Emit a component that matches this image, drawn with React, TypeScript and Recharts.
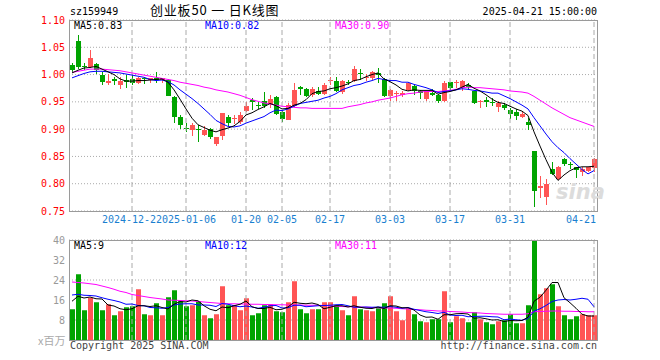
import React from "react";
import {
  ComposedChart,
  Bar,
  Line,
  XAxis,
  YAxis,
  CartesianGrid,
  ReferenceLine,
  Cell,
} from "recharts";

// trading days shown on the chart
const dates = [
  "2024-12-09", "2024-12-10", "2024-12-11", "2024-12-12", "2024-12-13", "2024-12-16", "2024-12-17", "2024-12-18", "2024-12-19", "2024-12-20",
  "2024-12-23", "2024-12-24", "2024-12-25", "2024-12-26", "2024-12-27", "2024-12-30", "2024-12-31", "2025-01-02", "2025-01-03", "2025-01-06",
  "2025-01-07", "2025-01-08", "2025-01-09", "2025-01-10", "2025-01-13", "2025-01-14", "2025-01-15", "2025-01-16", "2025-01-17", "2025-01-20",
  "2025-01-21", "2025-01-22", "2025-01-23", "2025-01-24", "2025-01-27", "2025-02-05", "2025-02-06", "2025-02-07", "2025-02-10", "2025-02-11",
  "2025-02-12", "2025-02-13", "2025-02-14", "2025-02-17", "2025-02-18", "2025-02-19", "2025-02-20", "2025-02-21", "2025-02-24", "2025-02-25",
  "2025-02-26", "2025-02-27", "2025-02-28", "2025-03-03", "2025-03-04", "2025-03-05", "2025-03-06", "2025-03-07", "2025-03-10", "2025-03-11",
  "2025-03-12", "2025-03-13", "2025-03-14", "2025-03-17", "2025-03-18", "2025-03-19", "2025-03-20", "2025-03-21", "2025-03-24", "2025-03-25",
  "2025-03-26", "2025-03-27", "2025-03-28", "2025-03-31", "2025-04-01", "2025-04-02", "2025-04-03", "2025-04-07", "2025-04-08", "2025-04-09",
  "2025-04-10", "2025-04-11", "2025-04-14", "2025-04-15", "2025-04-16", "2025-04-17", "2025-04-18", "2025-04-21",
];

const opens = [
  1.017, 1.062, 1.015, 1.014, 1.02, 1.0, 0.984, 0.992, 0.98, 0.99,
  0.992, 0.984, 0.993, 0.99, 0.993, 0.99, 0.99, 0.959, 0.922, 0.903,
  0.898, 0.901, 0.89, 0.8995, 0.8735, 0.888, 0.923, 0.918, 0.913, 0.934,
  0.953, 0.945, 0.952, 0.946, 0.959, 0.932, 0.917, 0.943, 0.977, 0.974,
  0.963, 0.97, 0.964, 0.988, 0.989, 0.968, 0.987, 0.989, 1.003, 0.994,
  0.994, 1.003, 0.992, 0.96, 0.965, 0.963, 0.972, 0.979, 0.969, 0.955,
  0.967, 0.963, 0.951, 0.986, 0.984, 0.978, 0.981, 0.969, 0.95, 0.953,
  0.949, 0.941, 0.945, 0.935, 0.932, 0.922, 0.914, 0.86, 0.793, 0.776,
  0.827, 0.808, 0.845, 0.837, 0.831, 0.821, 0.823, 0.828,
];

const highs = [
  1.021, 1.073, 1.022, 1.045, 1.022, 1.004, 1.001, 0.996, 0.996, 0.999,
  0.999, 0.996, 0.996, 0.994, 1.004, 0.994, 0.992, 0.961, 0.926, 0.911,
  0.911, 0.908, 0.905, 0.903, 0.886, 0.93, 0.926, 0.926, 0.931, 0.949,
  0.957, 0.949, 0.968, 0.962, 0.961, 0.934, 0.948, 0.984, 0.979, 0.976,
  0.978, 0.978, 0.984, 0.996, 0.995, 0.99, 0.99, 1.015, 1.011, 1.001,
  1.006, 1.012, 0.993, 0.974, 0.969, 0.97, 0.987, 0.981, 0.971, 0.97,
  0.974, 0.964, 0.989, 0.987, 0.99, 0.99, 0.984, 0.97, 0.954, 0.958,
  0.957, 0.952, 0.948, 0.938, 0.937, 0.932, 0.92, 0.86, 0.814, 0.809,
  0.84, 0.833, 0.848, 0.839, 0.831, 0.83, 0.831, 0.847,
];

const lows = [
  1.005, 1.011, 1.009, 1.012, 1.001, 0.98, 0.981, 0.981, 0.973, 0.976,
  0.981, 0.982, 0.982, 0.984, 0.984, 0.984, 0.96, 0.912, 0.901, 0.894,
  0.887, 0.877, 0.888, 0.882, 0.869, 0.88, 0.906, 0.909, 0.909, 0.932,
  0.935, 0.937, 0.939, 0.938, 0.926, 0.914, 0.916, 0.941, 0.963, 0.958,
  0.958, 0.962, 0.962, 0.98, 0.968, 0.964, 0.981, 0.987, 0.99, 0.989,
  0.99, 0.984, 0.958, 0.952, 0.952, 0.958, 0.969, 0.963, 0.956, 0.952,
  0.96, 0.947, 0.949, 0.972, 0.976, 0.969, 0.972, 0.946, 0.938, 0.941,
  0.943, 0.932, 0.935, 0.918, 0.917, 0.92, 0.899, 0.758, 0.774, 0.761,
  0.816, 0.807, 0.833, 0.827, 0.811, 0.815, 0.821, 0.822,
];

const closes = [
  1.009, 1.014, 1.013, 1.03, 1.008, 0.986, 0.989, 0.989, 0.989, 0.987,
  0.985, 0.994, 0.991, 0.993, 0.99, 0.993, 0.961, 0.923, 0.907, 0.901,
  0.908, 0.899, 0.899, 0.885, 0.885, 0.929, 0.911, 0.92, 0.926, 0.943,
  0.949, 0.943, 0.942, 0.956, 0.927, 0.919, 0.944, 0.972, 0.974, 0.96,
  0.974, 0.964, 0.98, 0.99, 0.97, 0.989, 0.985, 1.011, 1.001, 0.996,
  1.005, 1.0, 0.96, 0.972, 0.966, 0.966, 0.984, 0.97, 0.967, 0.969,
  0.963, 0.952, 0.984, 0.976, 0.986, 0.988, 0.978, 0.948, 0.952, 0.95,
  0.947, 0.947, 0.938, 0.927, 0.925, 0.928, 0.907, 0.787, 0.796, 0.8,
  0.817, 0.831, 0.836, 0.835, 0.825, 0.827, 0.83, 0.845,
];

const ma5 = [
  1.003, 1.008, 1.012, 1.013, 1.015, 1.01, 1.005, 1.0, 0.992, 0.988,
  0.988, 0.989, 0.989, 0.99, 0.991, 0.992, 0.986, 0.972, 0.955, 0.937,
  0.92, 0.908, 0.903, 0.898, 0.895, 0.899, 0.902, 0.906, 0.914, 0.926,
  0.93, 0.936, 0.941, 0.947, 0.943, 0.937, 0.938, 0.944, 0.947, 0.954,
  0.965, 0.969, 0.97, 0.974, 0.976, 0.979, 0.983, 0.989, 0.991, 0.996,
  1.0, 1.003, 0.992, 0.987, 0.981, 0.973, 0.97, 0.972, 0.971, 0.971,
  0.971, 0.964, 0.967, 0.969, 0.972, 0.977, 0.982, 0.975, 0.97, 0.963,
  0.955, 0.949, 0.947, 0.942, 0.937, 0.933, 0.925, 0.895, 0.869, 0.844,
  0.821, 0.806, 0.816, 0.824, 0.829, 0.831, 0.831, 0.832,
];

const ma10 = [
  0.994, 0.998, 1.002, 1.005, 1.006, 1.006, 1.005, 1.004, 1.003, 1.001,
  0.999, 0.997, 0.995, 0.991, 0.989, 0.99, 0.987, 0.981, 0.972, 0.964,
  0.956, 0.947, 0.937, 0.927, 0.916, 0.91, 0.905, 0.904, 0.906, 0.911,
  0.915, 0.919, 0.923, 0.93, 0.935, 0.934, 0.937, 0.942, 0.947, 0.949,
  0.951, 0.953, 0.957, 0.96, 0.965, 0.972, 0.976, 0.98, 0.982, 0.986,
  0.989, 0.993, 0.991, 0.989, 0.989, 0.986, 0.986, 0.982, 0.979, 0.976,
  0.972, 0.967, 0.969, 0.97, 0.972, 0.974, 0.973, 0.971, 0.97, 0.968,
  0.966, 0.966, 0.961, 0.956, 0.95, 0.944, 0.937, 0.921, 0.906, 0.891,
  0.877, 0.866, 0.857, 0.846, 0.836, 0.826, 0.818, 0.824,
];

const ma30 = [
  1.004, 1.006, 1.008, 1.01, 1.01, 1.01, 1.009, 1.008, 1.007, 1.005,
  1.003, 1.001, 0.999, 0.997, 0.995, 0.993, 0.991, 0.989, 0.986, 0.984,
  0.982, 0.98, 0.977, 0.975, 0.972, 0.97, 0.968, 0.965, 0.962, 0.958,
  0.954, 0.951, 0.948, 0.946, 0.944, 0.942, 0.941, 0.94, 0.939, 0.939,
  0.938, 0.938, 0.938, 0.938, 0.938, 0.938, 0.941, 0.943, 0.945, 0.948,
  0.95, 0.953, 0.955, 0.957, 0.96, 0.963, 0.965, 0.966, 0.968, 0.969,
  0.969, 0.969, 0.97, 0.971, 0.973, 0.976, 0.977, 0.976, 0.976, 0.975,
  0.974, 0.973, 0.972, 0.97, 0.969, 0.968, 0.966, 0.96, 0.953, 0.946,
  0.939, 0.933, 0.927, 0.921, 0.917, 0.913, 0.909, 0.905,
];

// volume, millions
const volumes = [
  12.3, 26.3, 11.9, 16.9, 15.1, 11.9, 14.3, 9.9, 11.5, 13.1,
  13.5, 20.3, 10.3, 9.9, 14.7, 9.9, 17.1, 19.9, 15.5, 13.5,
  13.9, 15.5, 9.9, 8.7, 10.3, 21.5, 13.9, 13.9, 11.9, 16.7,
  9.9, 10.7, 13.9, 14.3, 11.5, 11.1, 15.1, 23.5, 12.3, 10.7,
  12.3, 12.3, 15.1, 15.1, 13.9, 11.9, 9.9, 17.5, 12.3, 11.9,
  11.5, 12.7, 14.7, 17.5, 11.5, 7.9, 12.7, 10.3, 7.5, 7.1,
  8.3, 8.3, 19.5, 7.1, 9.5, 8.7, 7.1, 11.1, 8.3, 7.1,
  6.3, 7.5, 7.9, 10.3, 6.7, 6.7, 13.9, 40, 18.3, 20.7,
  22.3, 13.5, 9.9, 8.3, 9.5, 10.3, 9.9, 9.9,
];

const vma5 = [
  15.5, 17.5, 16.8, 17.2, 16.5, 16.4, 14.0, 13.6, 12.5, 12.1,
  12.5, 13.7, 13.7, 13.4, 13.7, 13.0, 12.4, 14.3, 15.4, 15.2,
  16.0, 15.7, 13.7, 12.3, 11.7, 13.2, 12.9, 13.7, 14.3, 15.6,
  13.3, 12.6, 12.6, 13.1, 12.1, 12.3, 13.2, 15.1, 14.7, 14.5,
  14.8, 14.2, 12.5, 13.1, 13.7, 13.7, 13.2, 13.7, 13.1, 12.7,
  12.6, 13.2, 12.6, 13.7, 13.6, 12.9, 12.9, 12.0, 10.0, 9.1,
  9.2, 8.3, 10.1, 10.1, 10.5, 10.6, 10.4, 8.7, 8.9, 8.5,
  8.0, 8.1, 7.4, 7.8, 7.7, 7.8, 9.1, 15.5, 17.1, 19.9,
  23.0, 23.0, 16.9, 14.9, 12.7, 10.3, 9.6, 9.6,
];

const vma10 = [
  18.0, 18.3, 17.9, 17.8, 17.6, 16.9, 16.3, 15.8, 15.2, 14.3,
  14.4, 13.8, 13.7, 13.0, 12.9, 12.7, 13.0, 14.0, 14.4, 14.5,
  14.5, 14.0, 14.0, 13.9, 13.4, 14.6, 14.3, 13.7, 13.3, 13.6,
  13.2, 12.7, 13.1, 13.7, 13.8, 12.8, 12.9, 13.9, 13.9, 13.3,
  13.5, 13.7, 13.8, 13.9, 14.1, 14.2, 13.7, 13.1, 13.1, 13.2,
  13.1, 13.2, 13.1, 13.4, 13.1, 12.7, 13.0, 12.3, 11.8, 11.3,
  11.0, 10.6, 11.1, 10.0, 9.8, 9.9, 9.3, 9.4, 9.5, 9.5,
  9.3, 9.2, 8.1, 8.4, 8.1, 7.9, 8.6, 11.5, 12.5, 13.8,
  15.4, 16.0, 16.2, 16.0, 16.3, 16.7, 16.3, 13.3,
];

const vma30 = [
  23.2, 23.0, 22.8, 22.5, 22.2, 21.6, 21.0, 20.3, 19.5, 19.0,
  18.2, 17.8, 17.4, 17.0, 16.7, 16.4, 16.0, 15.9, 15.8, 15.7,
  15.6, 15.4, 15.2, 15.0, 14.8, 14.6, 14.5, 14.5, 14.4, 14.4,
  14.3, 14.3, 14.2, 14.2, 14.1, 14.1, 14.0, 14.0, 14.0, 13.9,
  13.9, 13.9, 13.8, 13.6, 13.5, 13.4, 13.3, 13.3, 13.2, 13.1,
  13.0, 12.9, 12.8, 12.8, 12.7, 12.5, 12.4, 12.2, 12.1, 11.9,
  11.8, 11.6, 11.6, 11.4, 11.3, 11.2, 11.0, 10.9, 10.8, 10.6,
  10.5, 10.4, 10.3, 10.3, 10.3, 10.3, 10.5, 11.3, 11.4, 11.5,
  11.6, 11.6, 11.5, 11.5, 11.4, 11.4, 11.3, 11.3,
];

const tickDates = ["2024-12-23", "2025-01-06", "2025-01-20", "2025-02-05", "2025-02-17", "2025-03-03", "2025-03-17", "2025-03-31", "2025-04-21"];
const tickLabels = ["2024-12-23", "2025-01-06", "01-20", "02-05", "02-17", "03-03", "03-17", "03-31", "04-21"];
const priceTicks = [0.75, 0.8, 0.85, 0.9, 0.95, 1.0, 1.05, 1.1];
const volTicks = [8, 16, 24, 32, 40];

const RED = "#ff5555";
const GREEN = "#00a400";
const GRID = "#aaaaaa";
const MONO = "'DejaVu Sans Mono', monospace";
const CJK = "'Noto Sans CJK SC', sans-serif";

const rows = dates.map((date, i) => ({
  date,
  open: opens[i],
  high: highs[i],
  low: lows[i],
  close: closes[i],
  range: [lows[i], highs[i]],
  ma5: ma5[i],
  ma10: ma10[i],
  ma30: ma30[i],
  vol: volumes[i],
  vma5: vma5[i],
  vma10: vma10[i],
  vma30: vma30[i],
}));

const Candle = (props: any) => {
  const { x, y, width, height, payload } = props;
  if (!payload) return null;
  const { open, close, high, low } = payload;
  const color = close >= open ? RED : GREEN;
  const top = Math.min(y, y + height);
  const span = Math.abs(height);
  const k = span / (high - low);
  const yo = top + (high - open) * k;
  const yc = top + (high - close) * k;
  const bodyTop = Math.min(yo, yc);
  const bodyH = Math.max(1, Math.abs(yc - yo));
  const cx = Math.floor(x + width / 2);
  return (
    <g shapeRendering="crispEdges">
      <rect x={cx} y={top} width={1} height={span} fill={color} />
      <rect x={Math.round(x)} y={bodyTop} width={width} height={bodyH} fill={color} />
    </g>
  );
};

// later labels sit on a white patch so they cover the end of an earlier one
const DateTick = ({ x, y, payload }: any) => {
  const k = tickDates.indexOf(payload.value);
  if (k < 0) return null;
  const label = tickLabels[k];
  const last = k === tickDates.length - 1;
  const w = label.length * 6;
  const ax = last ? x + 2 : x;
  const left = last ? ax - w : ax - w / 2;
  return (
    <g>
      <rect x={left} y={y} width={w} height={12} fill="#fff" />
      <text x={ax} y={y} dy={8} textAnchor={last ? "end" : "middle"} fill="#1a7fd0" fontSize={10} fontFamily={MONO}>
        {label}
      </text>
    </g>
  );
};

const T = ({ left, right, top, color = "#000", size = 10, font = MONO, spacing = 0, children }: any) => (
  <div
    style={{
      position: "absolute",
      left,
      right,
      top,
      color,
      fontSize: size,
      fontFamily: font,
      letterSpacing: spacing,
      lineHeight: "12px",
      whiteSpace: "pre",
    }}
  >
    {children}
  </div>
);

const frame = (top: number, height: number): React.CSSProperties => ({
  position: "absolute",
  left: 69,
  top,
  width: 529,
  height,
  border: "1px solid #9a9a9a",
  boxSizing: "border-box",
  pointerEvents: "none",
});

export default function App() {
  return (
    <div style={{ position: "absolute", left: 0, top: 0, width: 660, height: 360, background: "#fff", overflow: "hidden" }}>
      <T left={70} top={6}>sz159949</T>
      <T left={150} top={4} size={13} font={CJK} spacing={0.8}>创业板50 一 日K线图</T>
      <T right={63} top={6}>2025-04-21 15:00:00</T>

      <div style={{ position: "absolute", left: 0, top: 0 }}>
        <ComposedChart width={660} height={235} data={rows} margin={{ top: 20, right: 63, bottom: 0, left: 9 }}>
          <CartesianGrid vertical={false} stroke={GRID} strokeDasharray="1 2" />
          <XAxis
            dataKey="date"
            ticks={tickDates}
            interval={0}
            tick={<DateTick />}
            axisLine={false}
            tickLine={false}
            tickSize={2}
            tickMargin={2}
            height={24}
          />
          <YAxis
            domain={[0.75, 1.1]}
            ticks={priceTicks}
            allowDataOverflow
            tickFormatter={(v: number) => v.toFixed(2)}
            tick={{ fill: "#ff0000", fontSize: 10, fontFamily: MONO }}
            axisLine={false}
            tickLine={false}
            tickSize={2}
            tickMargin={2}
            width={60}
          />
          {tickDates.map((d) => (
            <ReferenceLine key={d} x={d} stroke={GRID} strokeDasharray="5 3" />
          ))}
          <Bar dataKey="range" barSize={5} shape={<Candle />} isAnimationActive={false} />
          <Line type="linear" dataKey="ma30" stroke="#ff00ff" strokeWidth={1} dot={false} isAnimationActive={false} />
          <Line type="linear" dataKey="ma10" stroke="#0000ff" strokeWidth={1} dot={false} isAnimationActive={false} />
          <Line type="linear" dataKey="ma5" stroke="#000000" strokeWidth={1} dot={false} isAnimationActive={false} />
        </ComposedChart>
      </div>
      <div style={frame(20, 192)} />
      <T left={74} top={20}>MA5:0.83</T>
      <T left={205} top={20} color="#0000ff">MA10:0.82</T>
      <T left={335} top={20} color="#ff00ff">MA30:0.90</T>
      <T left={556} top={186} size={21} color="#dcdcdc" font="'DejaVu Sans', sans-serif">
        <span style={{ fontStyle: "italic", fontWeight: "bold" }}>sina</span>
      </T>

      <div style={{ position: "absolute", left: 0, top: 234 }}>
        <ComposedChart width={660} height={110} data={rows} margin={{ top: 6, right: 63, bottom: 4, left: 9 }}>
          <CartesianGrid vertical={false} stroke={GRID} strokeDasharray="1 2" />
          <XAxis dataKey="date" hide />
          <YAxis
            domain={[0, 40]}
            ticks={volTicks}
            allowDataOverflow
            tick={{ fill: "#999999", fontSize: 10, fontFamily: MONO }}
            axisLine={false}
            tickLine={false}
            tickSize={2}
            tickMargin={2}
            width={60}
          />
          {tickDates.map((d) => (
            <ReferenceLine key={d} x={d} stroke={GRID} strokeDasharray="5 3" />
          ))}
          <Bar dataKey="vol" barSize={5} isAnimationActive={false}>
            {rows.map((r) => (
              <Cell key={r.date} fill={r.close >= r.open ? RED : GREEN} />
            ))}
          </Bar>
          <Line type="linear" dataKey="vma30" stroke="#ff00ff" strokeWidth={1} dot={false} isAnimationActive={false} />
          <Line type="linear" dataKey="vma10" stroke="#0000ff" strokeWidth={1} dot={false} isAnimationActive={false} />
          <Line type="linear" dataKey="vma5" stroke="#000000" strokeWidth={1} dot={false} isAnimationActive={false} />
        </ComposedChart>
      </div>
      <div style={frame(240, 101)} />
      <T left={74} top={240}>MA5:9</T>
      <T left={205} top={240} color="#0000ff">MA10:12</T>
      <T left={335} top={240} color="#ff00ff">MA30:11</T>

      <T left={38} top={334} size={11} color="#aaaaaa" font={CJK}>x百万</T>
      <T left={70} top={340} color="#444444">Copyright 2025 SINA.COM</T>
      <T right={63} top={340} color="#444444">http://finance.sina.com.cn</T>
    </div>
  );
}
